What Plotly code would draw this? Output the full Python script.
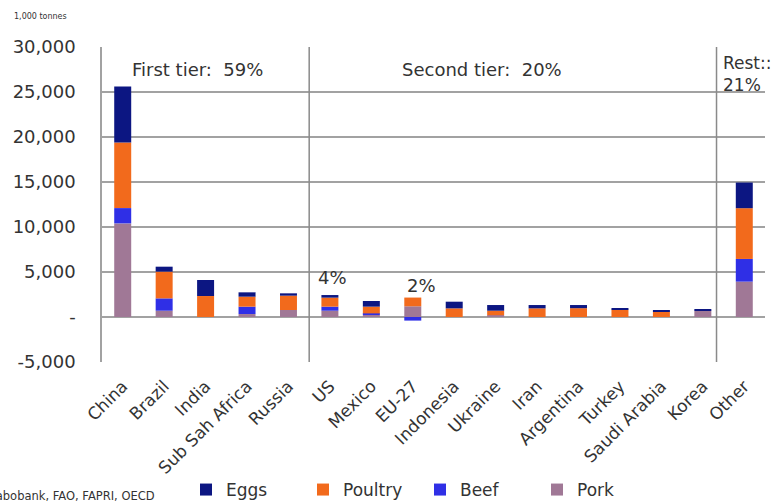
import plotly.graph_objects as go

# Growth in consumption by country, 1,000 tonnes
countries = ["China", "Brazil", "India", "Sub Sah Africa", "Russia", "US", "Mexico",
             "EU-27", "Indonesia", "Ukraine", "Iran", "Argentina", "Turkey",
             "Saudi Arabia", "Korea", "Other"]
pork    = [10400,  700,    0,  330,  780,  700,  250, 1190,    0,  200,    0,    0,    0,    0,  700, 3930]
beef    = [ 1700, 1370,    0,  820,    0,  450,  150, -400,    0,    0,    0,    0,    0,    0,    0, 2520]
poultry = [ 7300, 2970, 2330, 1110, 1590, 1000,  750,  970,  960,  500,  960,  980,  820,  600,    0, 5640]
eggs    = [ 6200,  550, 1780,  480,  260,  290,  630,    0,  740,  630,  370,  350,   70,  100,   80, 2850]

y_ticks = [-5000, 0, 5000, 10000, 15000, 20000, 25000, 30000]
y_tick_text = ["-5,000", "-", "5,000", "10,000", "15,000", "20,000", "25,000", "30,000"]

W, H = 779, 502
ML, MR, MT, MB = 102, 14, 47, 140
PW, PH = W - ML - MR, H - MT - MB


def px(x):
    return (x - ML) / PW


def py(y):
    return 1 - (y - MT) / PH


TEXT = "#333333"
GRID = "#a2a2a2"
FONT = "DejaVu Sans"
CLEAR = "rgba(0,0,0,0)"

fig = go.Figure()
series = [("Pork", pork, "#a07896"), ("Beef", beef, "#2f2fe6"),
          ("Poultry", poultry, "#f26a1c"), ("Eggs", eggs, "#0c1682")]
for name, vals, color in series:
    fig.add_trace(go.Bar(x=countries, y=vals, name=name, marker_color=color,
                         marker_line_width=0))

fig.update_layout(
    template="none",
    width=W, height=H,
    margin=dict(l=ML, r=MR, t=MT, b=MB, autoexpand=False),
    paper_bgcolor="white", plot_bgcolor="white",
    barmode="relative", bargap=0.59,
    font=dict(family=FONT, color=TEXT),
    xaxis=dict(type="category", range=[-0.5, 15.5], tickangle=-45,
               tickfont=dict(size=17, color=TEXT), showgrid=False,
               showline=False, zeroline=False, automargin=False,
               ticks="", ticklabelstandoff=10),
    yaxis=dict(range=[-5000, 30000], tickvals=y_ticks, ticktext=y_tick_text,
               tickfont=dict(size=18, color=TEXT), automargin=False,
               showgrid=True, gridcolor=GRID, gridwidth=2,
               zeroline=True, zerolinecolor=GRID, zerolinewidth=2,
               showline=True, linecolor=GRID, linewidth=1.5,
               ticks="outside", ticklen=21, tickcolor=CLEAR),
    legend=dict(orientation="h", traceorder="reversed", xref="container",
                yref="container", x=186 / W, y=1 - 490 / H, xanchor="left",
                yanchor="middle", font=dict(size=17, color=TEXT),
                bgcolor=CLEAR, entrywidth=72, itemwidth=30),
    showlegend=True,
)

# tier dividers
for xv in (4.5, 14.33):
    fig.add_shape(type="line", xref="x", yref="y", x0=xv, x1=xv, y0=-5000, y1=30000,
                  line=dict(color="#8a8a8a", width=1.5))

notes = [
    ("1,000 tonnes", 12, 17, 8, "left"),
    ("First tier:  59%", 130, 70, 18, "left"),
    ("Second tier:  20%", 400, 70, 18, "left"),
    ("Rest::<br>21%", 721, 74, 17, "left"),
    ("Source: Rabobank, FAO, FAPRI, OECD", 157, 496, 11.5, "right"),
]
for text, x, y, size, anchor in notes:
    fig.add_annotation(text=text, xref="paper", yref="paper", x=px(x), y=py(y),
                       xanchor=anchor, yanchor="middle", showarrow=False,
                       align="left", font=dict(size=size, color=TEXT))

fig.add_annotation(text="4%", x="US", y=4400, xref="x", yref="y", showarrow=False,
                   xshift=3, font=dict(size=18, color=TEXT))
fig.add_annotation(text="2%", x="EU-27", y=3450, xref="x", yref="y", showarrow=False,
                   xshift=9, font=dict(size=18, color=TEXT))

fig.write_html("out.html")
